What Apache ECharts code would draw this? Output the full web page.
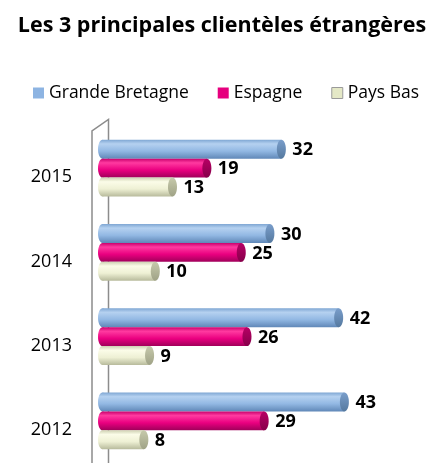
<!DOCTYPE html>
<html><head><meta charset="utf-8">
<script src="https://cdn.jsdelivr.net/npm/echarts@6/dist/echarts.min.js"></script>
<style>html,body{margin:0;padding:0;background:#fff}#c{width:444px;height:463px}</style>
</head><body><div id="c"></div>
<script>
var categories = ['2012', '2013', '2014', '2015'];
var grandeBretagne = [43, 42, 30, 32];
var espagne = [29, 26, 25, 19];
var paysBas = [8, 9, 10, 13];
var seriesNames = ['Grande Bretagne', 'Espagne', 'Pays Bas'];

var styles = [
  {body: ['#7ea6d3', '#b5d1f0', '#92b8e3', '#6088b8'], cap: ['#7a9ecb', '#55799f'], legend: '#8db4e2', border: '#8db4e2'},
  {body: ['#c8006c', '#ff3aa0', '#ea0080', '#a0005a'], cap: ['#b80065', '#86004a'], legend: '#e6007e', border: '#e6007e'},
  {body: ['#cfd2b3', '#fbfce8', '#eef0d4', '#b7ba9b'], cap: ['#c6c9ab', '#9fa286'], legend: '#e4e8c6', border: '#9a9a9a'}
];

function grad(c) {
  return new echarts.graphic.LinearGradient(0, 0, 0, 1, [
    {offset: 0, color: c[0]}, {offset: 0.22, color: c[1]},
    {offset: 0.6, color: c[2]}, {offset: 1, color: c[3]}
  ]);
}
function grad2(c) {
  return new echarts.graphic.LinearGradient(0, 0, 0, 1, [
    {offset: 0, color: c[0]}, {offset: 1, color: c[1]}
  ]);
}

function makeRender(si) {
  var st = styles[si];
  return function (params, api) {
    var cat = api.value(1), val = api.value(0);
    var band = api.size([0, 1])[1];
    var h = band * 0.225;
    var p0 = api.coord([0, cat]);
    var p1 = api.coord([val, cat]);
    var cy = p0[1] + (si - 1) * h;
    var y = cy - h / 2;
    var rx = 4.5;
    var x0 = p0[0] + rx;
    return {
      type: 'group',
      children: [
        {type: 'ellipse', shape: {cx: x0, cy: cy, rx: rx, ry: h / 2}, style: {fill: grad(st.body)}},
        {type: 'rect', shape: {x: x0, y: y, width: p1[0] - x0, height: h}, style: {fill: grad(st.body)}},
        {type: 'ellipse', shape: {cx: p1[0], cy: cy, rx: rx, ry: h / 2}, style: {fill: grad2(st.cap)}},
        {type: 'text', style: {text: String(val), x: p1[0] + 11, y: cy + 1, textAlign: 'left', textVerticalAlign: 'middle',
          fontFamily: 'Open Sans', fontWeight: 'bold', fontSize: 18, fill: '#000'}}
      ]
    };
  };
}

var dataSets = [grandeBretagne, espagne, paysBas];
var series = dataSets.map(function (arr, si) {
  return {
    name: seriesNames[si], type: 'custom', renderItem: makeRender(si),
    itemStyle: {color: styles[si].legend},
    encode: {x: 0, y: 1},
    data: arr.map(function (v, i) { return [v, i]; }),
    z: 3
  };
});

var chart = echarts.init(document.getElementById('c'));
chart.setOption({
  animation: false,
  title: {text: 'Les 3 principales clientèles étrangères', left: 'center', top: 10,
    textStyle: {fontFamily: 'Open Sans', fontWeight: 'bold', fontSize: 21.5, color: '#000'}},
  legend: {top: 79, left: 28, itemWidth: 11, itemHeight: 11, itemGap: 29,
    textStyle: {fontFamily: 'Open Sans', fontSize: 17.5, color: '#000'},
    data: seriesNames.map(function (n, i) {
      return {name: n, icon: 'rect', itemStyle: {color: styles[i].legend, borderColor: styles[i].border, borderWidth: i === 2 ? 1 : 0}};
    })},
  grid: {left: 98, top: 126, width: 286.5, height: 338},
  xAxis: {type: 'value', min: 0, max: 50, show: false},
  yAxis: {type: 'category', data: categories,
    axisLine: {show: false}, axisTick: {show: false},
    axisLabel: {margin: 26, verticalAlign: 'top', fontFamily: 'Open Sans', fontSize: 18, color: '#000'}},
  graphic: [
    {type: 'polyline', z: 1, shape: {points: [[92, 470], [92, 131], [108.5, 119.5], [108.5, 470]]},
      style: {stroke: '#8c8c8c', lineWidth: 1.5, fill: null}}
  ],
  series: series
});
</script></body></html>
